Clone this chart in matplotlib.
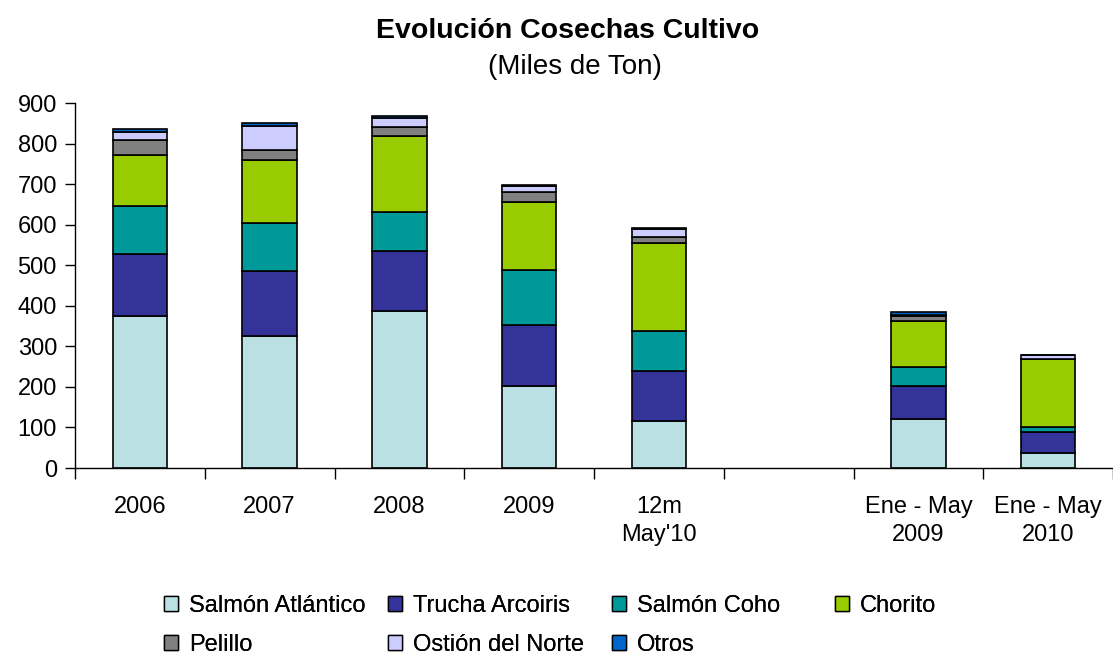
import matplotlib.pyplot as plt
from matplotlib.patches import Patch
import numpy as np

plt.rcParams['font.family'] = ['Liberation Sans', 'DejaVu Sans']

# Categorias del eje X (una vacia como separador)
categorias = ['2006', '2007', '2008', '2009', "12m\nMay'10", '',
              'Ene - May\n2009', 'Ene - May\n2010']

# Cosechas por especie (miles de ton)
salmon_atlantico = [375, 325, 387, 203, 116, 0, 121, 38]
trucha_arcoiris = [153, 161, 149, 149, 123, 0, 81, 52]
salmon_coho = [119, 118, 95, 135, 99, 0, 48, 12]
chorito = [126, 156, 188, 168, 218, 0, 113, 166]
pelillo = [36, 24, 21, 25, 13, 0, 12, 2]
ostion_norte = [19, 59, 22, 16, 20, 0, 2, 8]
otros = [8, 8, 6, 3, 4, 0, 7, 1]

series = [salmon_atlantico, trucha_arcoiris, salmon_coho, chorito,
          pelillo, ostion_norte, otros]
nombres = ['Salmón Atlántico', 'Trucha Arcoiris', 'Salmón Coho', 'Chorito',
           'Pelillo', 'Ostión del Norte', 'Otros']
colores = ['#BBE0E3', '#333399', '#009999', '#99CC00',
           '#808080', '#CCCCFF', '#0066CC']

fig = plt.figure(figsize=(11.13, 6.54), dpi=100)
ax = fig.add_axes([0.0674, 0.2844, 0.9326, 0.5581])

x = np.arange(len(categorias))
base = np.zeros(len(categorias))
for vals, nombre, color in zip(series, nombres, colores):
    vals = np.array(vals, dtype=float)
    hay = vals > 0  # no dibujar barras vacias
    ax.bar(x[hay], vals[hay], width=0.42, bottom=base[hay], color=color,
           edgecolor='black', linewidth=1.2, label=nombre)
    base += vals

ax.set_xlim(-0.5, len(categorias) - 0.5)
ax.set_ylim(0, 900)
ax.set_yticks(range(0, 901, 100))
ax.tick_params(axis='y', labelsize=17, length=7, width=1, direction='out', pad=6)

ax.set_xticks(x)
ax.set_xticklabels(categorias, fontsize=17, linespacing=1.35)
ax.tick_params(axis='x', which='major', length=0, pad=20)
ax.set_xticks(np.arange(-0.5, len(categorias), 1), minor=True)
ax.tick_params(axis='x', which='minor', length=8, width=1, direction='out')

for s in ['top', 'right']:
    ax.spines[s].set_visible(False)
ax.spines['left'].set_linewidth(1)
ax.spines['bottom'].set_linewidth(1)

fig.text(0.51, 0.953, 'Evolución Cosechas Cultivo', ha='center', va='center',
         fontsize=20.5, fontweight='bold')
fig.text(0.517, 0.897, '(Miles de Ton)', ha='center', va='center', fontsize=20)

# Leyenda en 4 columnas de igual ancho
handles = [Patch(facecolor=c, edgecolor='black', linewidth=1) for c in colores]
columnas = [[0, 4], [1, 5], [2, 6], [3]]
xs_col = [164, 388, 612, 835]
for idx, xc in zip(columnas, xs_col):
    leg = fig.legend([handles[i] for i in idx], [nombres[i] for i in idx],
                     loc='upper left', bbox_to_anchor=(xc / 1113, 1 - 595 / 654),
                     frameon=False, fontsize=17, handlelength=0.6,
                     handleheight=0.6, handletextpad=0.45, labelspacing=0.72,
                     borderpad=0, borderaxespad=0)
    fig.add_artist(leg)

fig.savefig('out.png', dpi=100)
